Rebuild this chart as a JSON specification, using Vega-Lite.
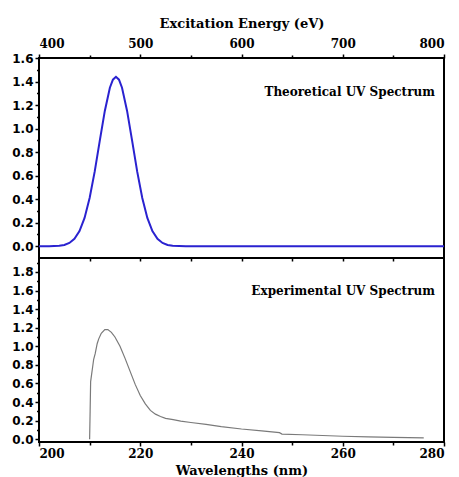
{
  "$schema": "https://vega.github.io/schema/vega-lite/v6.json",
  "padding": {"left": 10, "top": 16, "right": 5, "bottom": 5},
  "spacing": 0,
  "bounds": "flush",
  "datasets": {
    "theo": [
      {"energy": 400, "abs": 0.0},
      {"energy": 410, "abs": 0.0005},
      {"energy": 420, "abs": 0.004},
      {"energy": 425, "abs": 0.011},
      {"energy": 430, "abs": 0.028},
      {"energy": 435, "abs": 0.063},
      {"energy": 440, "abs": 0.129},
      {"energy": 445, "abs": 0.241},
      {"energy": 450, "abs": 0.41},
      {"energy": 455, "abs": 0.634},
      {"energy": 460, "abs": 0.895},
      {"energy": 465, "abs": 1.15},
      {"energy": 470, "abs": 1.347},
      {"energy": 473, "abs": 1.416},
      {"energy": 476, "abs": 1.44},
      {"energy": 479, "abs": 1.416},
      {"energy": 482, "abs": 1.347},
      {"energy": 487, "abs": 1.15},
      {"energy": 492, "abs": 0.895},
      {"energy": 497, "abs": 0.634},
      {"energy": 502, "abs": 0.41},
      {"energy": 507, "abs": 0.241},
      {"energy": 512, "abs": 0.129},
      {"energy": 517, "abs": 0.063},
      {"energy": 522, "abs": 0.028},
      {"energy": 527, "abs": 0.011},
      {"energy": 532, "abs": 0.004},
      {"energy": 545, "abs": 0.0003},
      {"energy": 560, "abs": 0.0},
      {"energy": 800, "abs": 0.0}
    ],
    "expt": [
      {"wl": 210.0, "abs": 0.0},
      {"wl": 210.1, "abs": 0.3},
      {"wl": 210.2, "abs": 0.62},
      {"wl": 210.4, "abs": 0.7},
      {"wl": 210.6, "abs": 0.78},
      {"wl": 210.8, "abs": 0.86},
      {"wl": 211.1, "abs": 0.92},
      {"wl": 211.5, "abs": 1.03},
      {"wl": 211.8, "abs": 1.08},
      {"wl": 212.3, "abs": 1.14},
      {"wl": 213.0, "abs": 1.18},
      {"wl": 213.6, "abs": 1.18},
      {"wl": 214.3, "abs": 1.15},
      {"wl": 215.0, "abs": 1.1},
      {"wl": 216.0, "abs": 1.0},
      {"wl": 217.0, "abs": 0.87},
      {"wl": 218.0, "abs": 0.73},
      {"wl": 219.0, "abs": 0.59},
      {"wl": 220.0, "abs": 0.47},
      {"wl": 221.0, "abs": 0.38},
      {"wl": 222.0, "abs": 0.31},
      {"wl": 223.0, "abs": 0.27},
      {"wl": 224.0, "abs": 0.245},
      {"wl": 225.0, "abs": 0.225},
      {"wl": 226.5, "abs": 0.21},
      {"wl": 228.0, "abs": 0.195},
      {"wl": 230.0, "abs": 0.18},
      {"wl": 233.0, "abs": 0.16},
      {"wl": 236.0, "abs": 0.135},
      {"wl": 240.0, "abs": 0.11},
      {"wl": 244.0, "abs": 0.09},
      {"wl": 247.5, "abs": 0.07},
      {"wl": 248.0, "abs": 0.055},
      {"wl": 252.0, "abs": 0.048},
      {"wl": 256.0, "abs": 0.04},
      {"wl": 260.0, "abs": 0.032},
      {"wl": 265.0, "abs": 0.025},
      {"wl": 270.0, "abs": 0.02},
      {"wl": 276.0, "abs": 0.015}
    ],
    "notes": [
      {"panel": "top", "label": "Theoretical UV Spectrum", "x": 791, "y": 1.31},
      {"panel": "bottom", "label": "Experimental UV Spectrum", "x": 278.2, "y": 1.59}
    ]
  },
  "vconcat": [
    {
      "width": 405,
      "height": 200,
      "resolve": {"axis": {"x": "independent", "y": "independent"}},
      "layer": [
        {
          "data": {"name": "theo"},
          "mark": {"type": "line", "color": "#2a22d0", "strokeWidth": 2},
          "encoding": {
            "x": {"field": "energy", "type": "quantitative", "scale": {"domain": [400, 800], "nice": false},
              "axis": {"orient": "top", "title": "Excitation Energy  (eV)", "values": [400, 500, 600, 700, 800], "tickSize": 4, "labelPadding": 4, "titlePadding": 7}},
            "y": {"field": "abs", "type": "quantitative", "scale": {"domain": [-0.1, 1.6], "nice": false, "zero": false},
              "axis": {"orient": "left", "title": null, "values": [0, 0.2, 0.4, 0.6, 0.8, 1.0, 1.2, 1.4, 1.6], "format": ".1f", "tickSize": 4, "labelPadding": 2}}
          }
        },
        {
          "data": {"name": "theo"},
          "mark": {"type": "line", "strokeOpacity": 0},
          "encoding": {
            "x": {"field": "energy", "type": "quantitative",
              "axis": {"orient": "top", "title": null, "labels": false, "values": [450, 550, 650, 750], "tickSize": 3}},
            "y": {"field": "abs", "type": "quantitative",
              "axis": {"orient": "left", "title": null, "labels": false, "values": [0.1, 0.3, 0.5, 0.7, 0.9, 1.1, 1.3, 1.5], "tickSize": 2.5}}
          }
        },
        {
          "data": {"name": "theo"},
          "mark": {"type": "line", "strokeOpacity": 0},
          "encoding": {
            "x": {"field": "energy", "type": "quantitative",
              "axis": {"orient": "bottom", "title": null, "labels": false, "values": [450, 500, 550, 600, 650, 700, 750], "tickSize": 3}},
            "y": {"field": "abs", "type": "quantitative", "axis": null}
          }
        },
        {
          "data": {"name": "notes"},
          "transform": [{"filter": "datum.panel === 'top'"}],
          "mark": {"type": "text", "align": "right", "baseline": "middle", "font": "DejaVu Serif", "fontWeight": "bold", "fontSize": 12, "color": "black"},
          "encoding": {
            "x": {"field": "x", "type": "quantitative", "axis": null},
            "y": {"field": "y", "type": "quantitative", "axis": null},
            "text": {"field": "label"}
          }
        }
      ]
    },
    {
      "width": 405,
      "height": 184,
      "resolve": {"axis": {"x": "independent", "y": "independent"}},
      "layer": [
        {
          "data": {"name": "expt"},
          "mark": {"type": "line", "color": "#7a7a7a", "strokeWidth": 1.2},
          "encoding": {
            "x": {"field": "wl", "type": "quantitative", "scale": {"domain": [200, 280], "nice": false, "zero": false},
              "axis": {"orient": "bottom", "title": "Wavelengths (nm)", "values": [200, 220, 240, 260, 280], "tickSize": 4, "labelPadding": 2, "titlePadding": 5}},
            "y": {"field": "abs", "type": "quantitative", "scale": {"domain": [-0.03, 1.95], "nice": false, "zero": false},
              "axis": {"orient": "left", "title": null, "values": [0, 0.2, 0.4, 0.6, 0.8, 1.0, 1.2, 1.4, 1.6, 1.8], "format": ".1f", "tickSize": 4, "labelPadding": 2}}
          }
        },
        {
          "data": {"name": "expt"},
          "mark": {"type": "line", "strokeOpacity": 0},
          "encoding": {
            "x": {"field": "wl", "type": "quantitative",
              "axis": {"orient": "bottom", "title": null, "labels": false, "values": [210, 230, 250, 270], "tickSize": 3}},
            "y": {"field": "abs", "type": "quantitative",
              "axis": {"orient": "left", "title": null, "labels": false, "values": [0.1, 0.3, 0.5, 0.7, 0.9, 1.1, 1.3, 1.5, 1.7, 1.9], "tickSize": 2.5}}
          }
        },
        {
          "data": {"name": "notes"},
          "transform": [{"filter": "datum.panel === 'bottom'"}],
          "mark": {"type": "text", "align": "right", "baseline": "middle", "font": "DejaVu Serif", "fontWeight": "bold", "fontSize": 12, "color": "black"},
          "encoding": {
            "x": {"field": "x", "type": "quantitative", "axis": null},
            "y": {"field": "y", "type": "quantitative", "axis": null},
            "text": {"field": "label"}
          }
        }
      ]
    }
  ],
  "config": {
    "background": "white",
    "view": {"stroke": "black", "strokeWidth": 2},
    "axis": {
      "grid": false,
      "domain": false,
      "tickColor": "black",
      "tickWidth": 1.5,
      "labelColor": "black",
      "titleColor": "black",
      "labelFont": "DejaVu Sans",
      "labelFontWeight": "bold",
      "labelFontSize": 12,
      "titleFont": "DejaVu Serif",
      "titleFontWeight": "bold",
      "titleFontSize": 13
    },
    "axisX": {"labelFont": "DejaVu Serif", "labelFontSize": 12}
  }
}
